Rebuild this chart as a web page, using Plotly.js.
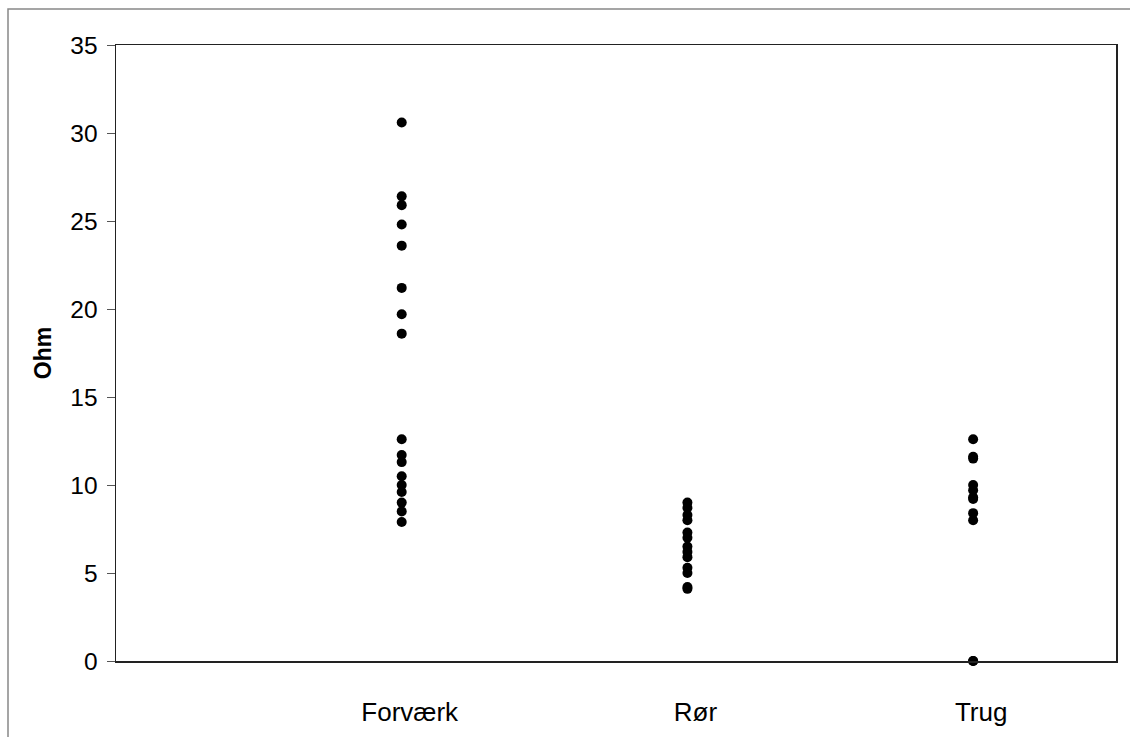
<!DOCTYPE html>
<html>
<head>
<meta charset="utf-8">
<script src="https://cdn.plot.ly/plotly-3.0.1.min.js"></script>
<style>html,body{margin:0;padding:0;background:#fff;}#chart{width:1130px;height:737px;}</style>
</head>
<body>
<div id="chart"></div>
<script>
const categories = ["Forværk", "Rør", "Trug"];
const categoryPositions = [1, 2, 3];
const forvaerk = [30.6, 26.4, 25.9, 24.8, 23.6, 21.2, 19.7, 18.6, 12.6, 11.7, 11.3, 10.5, 10.0, 9.6, 9.0, 8.5, 7.9];
const ror = [9.0, 8.7, 8.3, 8.0, 7.3, 7.0, 6.5, 6.2, 5.9, 5.3, 5.0, 4.2, 4.1];
const trug = [12.6, 11.6, 11.5, 10.0, 9.7, 9.3, 9.2, 8.4, 8.0, 0, 0];
const yTicks = [0, 5, 10, 15, 20, 25, 30, 35];

const groups = [forvaerk, ror, trug];
const traces = groups.map((vals, i) => ({
  type: "scatter",
  mode: "markers",
  x: vals.map(() => categoryPositions[i]),
  y: vals,
  name: categories[i],
  marker: {color: "#000000", size: 10},
  cliponaxis: false,
  hoverinfo: "y"
}));

const font = {family: "Liberation Sans, Arial, sans-serif", color: "#000000"};

const layout = {
  width: 1130,
  height: 737,
  margin: {l: 116, r: 14, t: 45, b: 76},
  paper_bgcolor: "#ffffff",
  plot_bgcolor: "#ffffff",
  showlegend: false,
  font: font,
  xaxis: {
    range: [0, 3.5],
    tickvals: categoryPositions,
    ticktext: categories,
    ticks: "",
    showgrid: false,
    zeroline: false,
    showline: true,
    linecolor: "#222222",
    linewidth: 1.5,
    mirror: true,
    ticklabelstandoff: 27,
    ticklabelshift: 8,
    tickfont: {family: font.family, size: 26, color: "#000"}
  },
  yaxis: {
    range: [0, 35],
    tickvals: yTicks,
    ticks: "outside",
    ticklen: 8,
    tickcolor: "#555555",
    tickwidth: 1,
    showgrid: false,
    zeroline: false,
    showline: true,
    linecolor: "#222222",
    linewidth: 1.5,
    mirror: true,
    ticklabelstandoff: 4,
    tickfont: {family: font.family, size: 24.5, color: "#000"},
    title: {text: "<b>Ohm</b>", font: {family: font.family, size: 23, color: "#000"}, standoff: 12}
  },
  shapes: [{
    type: "rect",
    xref: "paper", yref: "paper",
    x0: -0.108, x1: 1.03,
    y0: -0.2, y1: 1.0584,
    line: {color: "#888888", width: 1.5},
    fillcolor: "rgba(0,0,0,0)",
    layer: "below"
  }]
};

Plotly.newPlot("chart", traces, layout, {displayModeBar: false, staticPlot: true});
</script>
</body>
</html>
